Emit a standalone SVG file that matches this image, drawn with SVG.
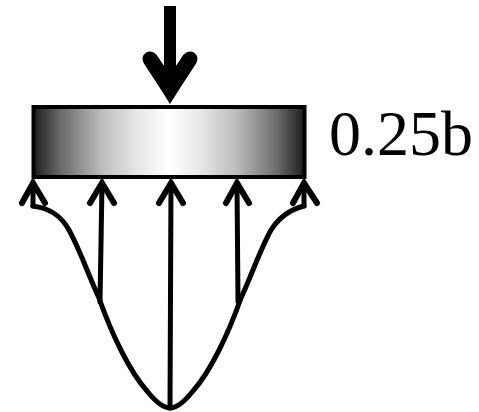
<svg xmlns="http://www.w3.org/2000/svg" width="479" height="412" viewBox="0 0 479 412">
<style>
.c{fill:none;stroke:#000;stroke-width:5;stroke-linecap:round;stroke-linejoin:round}
.h{fill:none;stroke:#000;stroke-width:6;stroke-linecap:round;stroke-linejoin:miter}
</style>
<defs>
<linearGradient id="g" x1="0" x2="1" y1="0" y2="0">
<stop offset="0" stop-color="#1c1c1c"/>
<stop offset="0.1" stop-color="#6a6a6a"/>
<stop offset="0.25" stop-color="#bcbcbc"/>
<stop offset="0.38" stop-color="#e6e6e6"/>
<stop offset="0.5" stop-color="#fff"/>
<stop offset="0.62" stop-color="#e6e6e6"/>
<stop offset="0.75" stop-color="#bcbcbc"/>
<stop offset="0.9" stop-color="#6a6a6a"/>
<stop offset="1" stop-color="#1c1c1c"/>
</linearGradient>
</defs>
<rect width="479" height="412" fill="#fff"/>
<g id="load">
<path d="M170 6V70" stroke="#000" stroke-width="12" fill="none"/>
<path d="M150 59L164 80M190 59L176 80" fill="none" stroke="#000" stroke-width="15" stroke-linecap="round"/>
<path d="M156 54L164 66H176L184 54L194 66L170 104L146 66Z" fill="#000"/>
</g>
<g id="plate">
<rect x="33.500" y="107" width="271" height="70" fill="url(#g)" stroke="#000" stroke-width="4"/>
</g>
<g id="label">
<text x="329" y="155" font-family="Liberation Serif, Times New Roman, serif" font-size="64" fill="#000">0.25b</text>
</g>
<g id="connectors">
<path class="c" d="M33 206C48 208 60 214 69 230C80 250 88 274 99 298C112 335 130 372 147 391C155 401 163 408 170 408C177 408 185 401 193 391C210 372 228 335 241 298C252 274 260 250 271 230C280 216 292 209 304 206"/>
<path class="c" d="M33 184V206"/>
<path class="c" d="M304 184V206"/>
<path class="c" d="M100 302L102 184"/>
<path class="c" d="M170 408L171 184"/>
<path class="c" d="M238 302L237 184"/>
<path class="h" d="M22 203L33 183L45 203"/>
<path class="h" d="M90 203L102 183L114 203"/>
<path class="h" d="M159 203L171 183L183 203"/>
<path class="h" d="M226 203L237 183L249 203"/>
<path class="h" d="M293 203L304 183L317 203"/>
</g>
</svg>
